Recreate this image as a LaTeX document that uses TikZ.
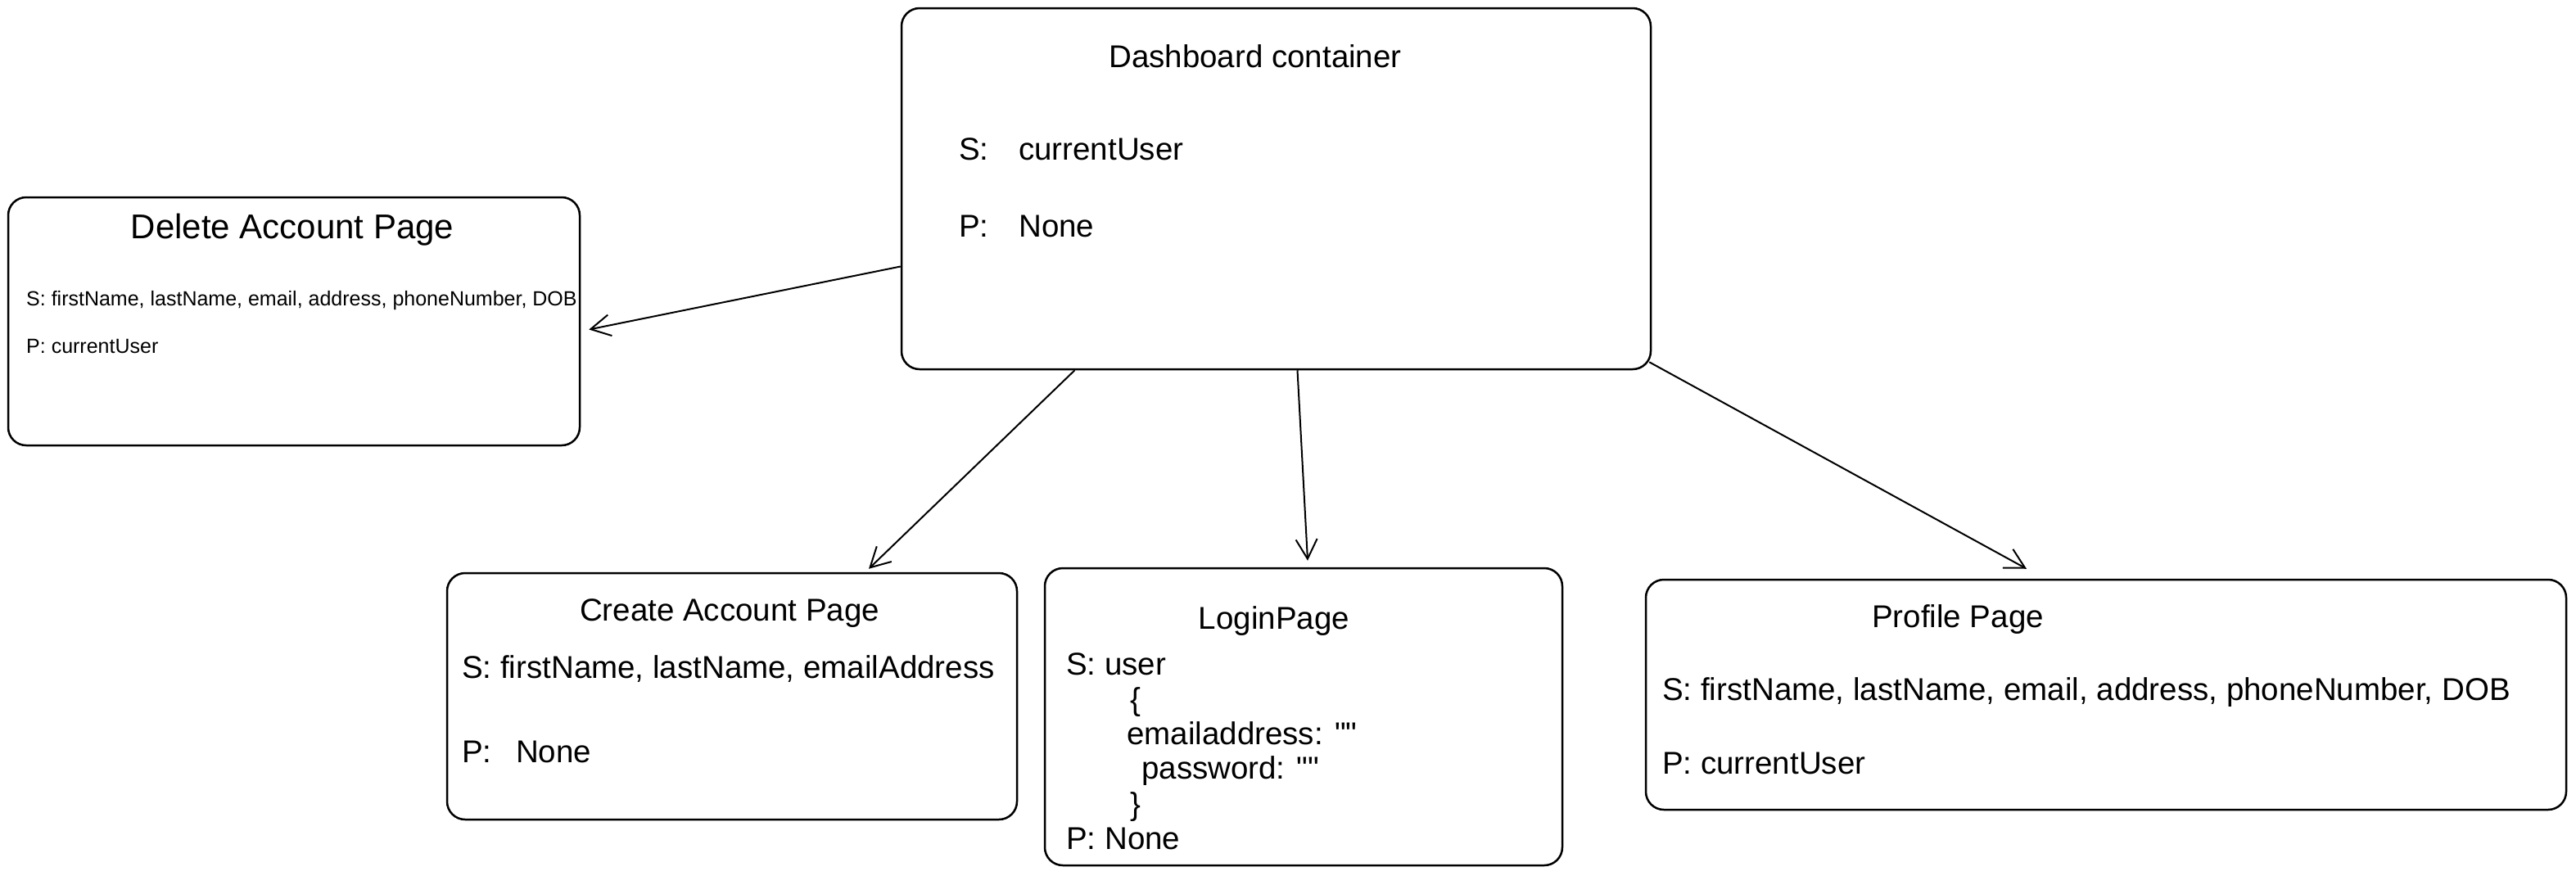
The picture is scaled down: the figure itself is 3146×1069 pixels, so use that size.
\documentclass[tikz,border=0pt]{standalone}
\usepackage{fontspec}
\newfontfamily\hand{Liberation Sans}
\usetikzlibrary{arrows.meta}
\begin{document}
\begin{tikzpicture}[x=1pt,y=-1pt,
  box/.style={draw, line width=2.5pt, rounded corners=22pt, inner sep=0pt},
  txt/.style={font=\hand\fontsize{38.5}{46}\selectfont, inner sep=0pt, anchor=west, text height=28pt, text depth=8pt, yshift=-4pt},
  ttl/.style={txt, anchor=center},
  smalltxt/.style={font=\hand\fontsize{25}{30}\selectfont, text height=18pt, text depth=5pt},
  arr/.style={line width=2pt, -{Straight Barb[length=24pt,width=26pt,line width=2pt]}}]
\useasboundingbox (0,0) rectangle (3146,1069);
\fill[white] (0,0) rectangle (3146,1069);

% Dashboard container
\node[box, minimum width=915pt, minimum height=441pt] (dash) at (1558.5,230.5) {};
\node[ttl] (dashT) at (1533,68) {Dashboard container};
\node[txt] (dashS) at (1171,181) {\makebox[73pt][l]{S:}currentUser};
\node[txt] (dashP) at (1171,275) {\makebox[73pt][l]{P:}None};

% Delete Account Page
\node[box, minimum width=698pt, minimum height=303pt] (del) at (359,392.5) {};
\node[ttl, font=\hand\fontsize{42}{50}\selectfont] (delT) at (357,277) {Delete Account Page};
\node[txt, smalltxt] (delS) at (32,363) {S: firstName, lastName, email, address, phoneNumber, DOB};
\node[txt, smalltxt] (delP) at (32,421) {P: currentUser};

% Create Account Page
\node[box, minimum width=696pt, minimum height=301pt] (create) at (894,850.5) {};
\node[ttl] (createT) at (891,744) {Create Account Page};
\node[txt] (createS) at (564,814) {S: firstName, lastName, emailAddress};
\node[txt] (createP) at (564,917) {\makebox[66pt][l]{P:}None};

% LoginPage
\node[box, minimum width=632pt, minimum height=363pt] (login) at (1592,875.5) {};
\node[ttl] (loginT) at (1556,754) {LoginPage};
\node[txt] (loginS) at (1302,810) {S: user};
\node[txt] (loginO) at (1380,853) {\{};
\node[txt] (loginE) at (1376,895) {emailaddress: ""};
\node[txt] (loginW) at (1394,937) {password: ""};
\node[txt] (loginC) at (1380,981) {\}};
\node[txt] (loginP) at (1302,1023) {P: None};

% Profile Page
\node[box, minimum width=1124pt, minimum height=281pt] (prof) at (2572,848.5) {};
\node[ttl] (profT) at (2391,752) {Profile Page};
\node[txt] (profS) at (2030,841) {S: firstName, lastName, email, address, phoneNumber, DOB};
\node[txt] (profP) at (2030,931) {P: currentUser};

% Connectors
\draw[arr] ([yshift=-95pt]dash.west) -- ([xshift=10pt,yshift=-10pt]del.east);
\draw[arr] ([xshift=-246pt]dash.south) -- ([xshift=167pt,yshift=4pt]create.north);
\draw[arr] ([xshift=26pt]dash.south) -- ([xshift=5pt,yshift=8pt]login.north);
\draw[arr] ([xshift=-3pt,yshift=10pt]dash.south east) -- ([xshift=-97pt,yshift=12pt]prof.north);
\end{tikzpicture}
\end{document}
